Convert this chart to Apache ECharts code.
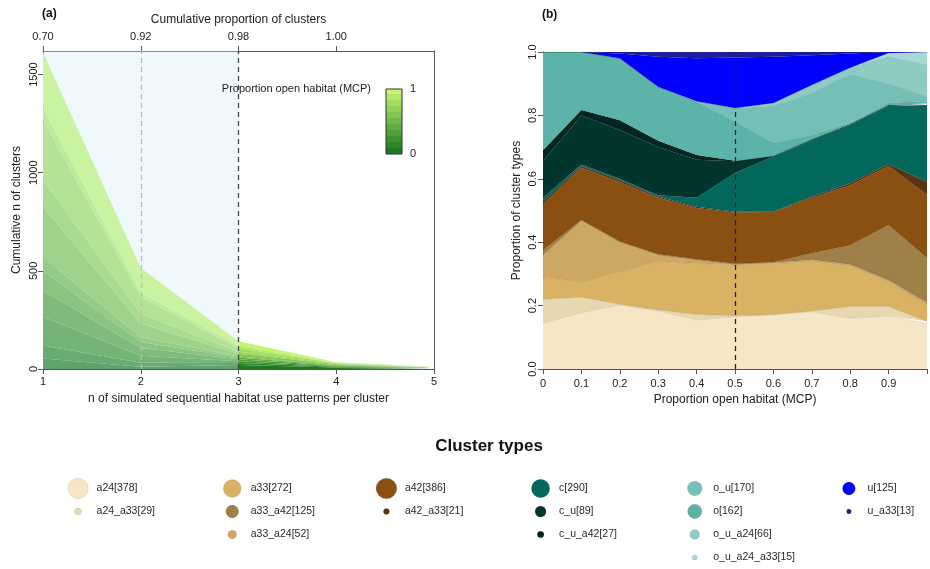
<!DOCTYPE html>
<html><head><meta charset="utf-8">
<script src="https://cdn.jsdelivr.net/npm/echarts@6/dist/echarts.min.js"></script>
<style>html,body{margin:0;padding:0;background:#fff}#c{width:930px;height:569px}</style>
</head><body><div id="c"></div>
<script>
const FONT = '"Liberation Sans", Arial, Helvetica, sans-serif';

// ---------- Panel (a) data ----------
const nPatterns = ['1', '2', '3', '4', '5'];
const cumPropLabels = ['0.70', '0.92', '0.98', '1.00'];
const openLevels = ['0', '0.1', '0.2', '0.3', '0.4', '0.5', '0.6', '0.7', '0.8', '0.9', '1'];
const nOpen00 = [54, 12, 20, 8, 4];
const nOpen01 = [66, 20, 10, 3, 1];
const nOpen02 = [145, 35, 10, 3, 1];
const nOpen03 = [135, 40, 10, 3, 1];
const nOpen04 = [100, 30, 8, 2, 1];
const nOpen05 = [70, 25, 6, 2, 0.5];
const nOpen06 = [255, 70, 14, 3, 1];
const nOpen07 = [137, 50, 10, 2, 0.5];
const nOpen08 = [306, 85, 18, 3, 1];
const nOpen09 = [62, 22, 12, 2, 0.5];
const nOpen10 = [282, 125, 24, 4, 0.5];
const nOpenAll = [nOpen00, nOpen01, nOpen02, nOpen03, nOpen04, nOpen05, nOpen06, nOpen07, nOpen08, nOpen09, nOpen10];
const yMaxA = 1620;
const shadeRange = ['1', '3'];
const refLinesA = ['2', '3'];

// ---------- Panel (b) data ----------
const propOpen = ['0', '0.1', '0.2', '0.3', '0.4', '0.5', '0.6', '0.7', '0.8', '0.9', '1'];
const typeNames = ['a24', 'a24_a33', 'a33', 'a33_a24', 'a33_a42', 'a42', 'a42_a33', 'c', 'c_u', 'c_u_a42', 'o', 'o_u', 'o_u_a24', 'o_u_a24_a33', 'u', 'u_a33'];
const typeCounts = [378, 29, 272, 52, 125, 386, 21, 290, 89, 27, 162, 170, 66, 15, 125, 13];
const p_a24 =         [0.144, 0.178, 0.202, 0.183, 0.155, 0.165, 0.170, 0.181, 0.160, 0.167, 0.144];
const p_a24_a33 =     [0.076, 0.048, 0.002, 0.003, 0.017, 0.003, 0.002, 0.002, 0.037, 0.030, 0.006];
const p_a33 =         [0.071, 0.047, 0.103, 0.153, 0.161, 0.160, 0.161, 0.156, 0.128, 0.078, 0.050];
const p_a33_a24 =     [0.069, 0.195, 0.093, 0.021, 0.011, 0.002, 0.002, 0.006, 0.005, 0.005, 0.010];
const p_a33_a42 =     [0.015, 0.002, 0.002, 0.002, 0.002, 0.002, 0.002, 0.020, 0.060, 0.174, 0.140];
const p_a42 =         [0.145, 0.165, 0.188, 0.178, 0.162, 0.162, 0.158, 0.175, 0.190, 0.186, 0.200];
const p_a42_a33 =     [0.008, 0.005, 0.006, 0.004, 0.004, 0.002, 0.002, 0.004, 0.006, 0.007, 0.040];
const p_c =           [0.012, 0.005, 0.004, 0.004, 0.028, 0.122, 0.173, 0.178, 0.184, 0.183, 0.243];
const p_c_u =         [0.116, 0.155, 0.154, 0.152, 0.120, 0.037, 0.002, 0.002, 0.002, 0.002, 0.003];
const p_c_u_a42 =     [0.034, 0.017, 0.031, 0.020, 0.015, 0.002, 0.001, 0.001, 0.001, 0.001, 0.002];
const p_o =           [0.310, 0.183, 0.195, 0.170, 0.168, 0.123, 0.040, 0.013, 0.002, 0.007, 0.007];
const p_o_u =         [0, 0, 0, 0, 0.002, 0.043, 0.117, 0.132, 0.155, 0.060, 0.015];
const p_o_u_a24 =     [0, 0, 0, 0, 0, 0, 0.009, 0.026, 0.020, 0.085, 0.100];
const p_o_u_a24_a33 = [0, 0, 0, 0, 0, 0, 0, 0, 0, 0.012, 0.040];
const p_u =           [0, 0, 0.015, 0.095, 0.135, 0.160, 0.146, 0.094, 0.045, 0.003, 0];
const p_u_a33 =       [0, 0, 0.005, 0.015, 0.020, 0.017, 0.015, 0.010, 0.005, 0, 0];
const typeProps = [p_a24, p_a24_a33, p_a33, p_a33_a24, p_a33_a42, p_a42, p_a42_a33, p_c, p_c_u, p_c_u_a42, p_o, p_o_u, p_o_u_a24, p_o_u_a24_a33, p_u, p_u_a33];
const refLineB = '0.5';
const legendGroups = [['a24', 'a24_a33'], ['a33', 'a33_a42', 'a33_a24'], ['a42', 'a42_a33'], ['c', 'c_u', 'c_u_a42'], ['o_u', 'o', 'o_u_a24', 'o_u_a24_a33'], ['u', 'u_a33']];

// ---------- styles ----------
const typeColors = {
  a24: '#F5E7C5', a24_a33: '#E6D9B2', a33: '#D9B264', a33_a24: '#CDA862', a33_a42: '#9E8048',
  a42: '#8A5012', a42_a33: '#5A3410', c: '#03685C', c_u: '#03352F', c_u_a42: '#012520',
  o: '#5BB3A9', o_u: '#74C0B7', o_u_a24: '#8DCBC4', o_u_a24_a33: '#AAD9D4', u: '#0000FF', u_a33: '#1E1E9A'
};
const gLo = [30, 122, 30], gHi = [196, 246, 112];
function greenAt(t) {
  const c = gLo.map((v, i) => Math.round(v + (gHi[i] - v) * t));
  return 'rgb(' + c.join(',') + ')';
}
const greenColors = openLevels.map((_, i) => greenAt(i / (openLevels.length - 1)));

const axisColor = '#555';
const txt = '#222';

const series = [];
nOpenAll.forEach((arr, i) => {
  series.push({
    name: 'open ' + openLevels[i], type: 'line', xAxisIndex: 0, yAxisIndex: 0, stack: 'a',
    data: arr, symbol: 'none', silent: true,
    lineStyle: { width: 0 }, areaStyle: { color: greenColors[i], opacity: 1 }, z: 2
  });
});
series.push({
  type: 'line', xAxisIndex: 0, yAxisIndex: 0, data: [], z: 5, silent: true,
  markArea: { silent: true, z: 5, itemStyle: { color: 'rgba(212,238,246,0.36)' },
    data: [[{ xAxis: shadeRange[0] }, { xAxis: shadeRange[1] }]] }
});
series.push({
  type: 'line', xAxisIndex: 0, yAxisIndex: 0, data: [], z: 6, silent: true,
  markLine: { silent: true, z: 6, symbol: 'none', label: { show: false }, animation: false,
    data: [
      { xAxis: refLinesA[0], lineStyle: { color: '#bbbbbb', type: [5, 4], width: 1.3 } },
      { xAxis: refLinesA[1], lineStyle: { color: '#444444', type: [5, 4], width: 1.3 } }
    ] }
});
typeNames.forEach((nm, i) => {
  series.push({
    name: nm, type: 'line', xAxisIndex: 2, yAxisIndex: 1, stack: 'b',
    data: typeProps[i], symbol: 'none', silent: true,
    lineStyle: { width: 0.6, color: 'rgba(0,0,0,0.12)' },
    areaStyle: { color: typeColors[nm], opacity: 1 }, z: 2
  });
});
series.push({
  type: 'line', xAxisIndex: 2, yAxisIndex: 1, data: [], z: 6, silent: true,
  markLine: { silent: true, z: 6, symbol: 'none', label: { show: false }, animation: false,
    data: [{ xAxis: refLineB, lineStyle: { color: '#222', type: [5, 4], width: 1.3 } }] }
});
function symD(n) { return 1.6 * Math.pow(n, 0.43); }
const legendData = [];
legendGroups.forEach((grp, col) => {
  grp.forEach((nm, row) => {
    const n = typeCounts[typeNames.indexOf(nm)];
    const d = symD(n);
    legendData.push({
      value: [col, row], symbolSize: d,
      itemStyle: { color: typeColors[nm], opacity: 1, borderColor: 'rgba(0,0,0,0.08)', borderWidth: 1 },
      label: { show: true, position: 'right', distance: 18 - d / 2, formatter: nm + '[' + n + ']' }
    });
  });
});
series.push({
  type: 'scatter', xAxisIndex: 4, yAxisIndex: 3, data: legendData, silent: true,
  itemStyle: { opacity: 1 },
  label: { fontFamily: FONT, fontSize: 10.5, color: '#2a2a2a' }
});

const option = {
  animation: false,
  backgroundColor: '#fff',
  textStyle: { fontFamily: FONT },
  grid: [
    { left: 43, right: 496, top: 51, bottom: 200, show: false },
    { left: 543, right: -4, top: 52, bottom: 200, show: false },
    { left: 1, width: 925, top: 477, height: 95, show: false }
  ],
  xAxis: [
    { gridIndex: 0, type: 'category', data: nPatterns, boundaryGap: false, position: 'bottom',
      axisLine: { show: true, onZero: false, lineStyle: { color: axisColor } },
      axisTick: { show: true, length: 5, lineStyle: { color: axisColor } },
      axisLabel: { fontSize: 11, color: txt, margin: 7 }, splitLine: { show: false },
      name: 'n of simulated sequential habitat use patterns per cluster', nameLocation: 'middle', nameGap: 24,
      nameTextStyle: { fontSize: 12, color: txt } },
    { gridIndex: 0, type: 'category', data: nPatterns, boundaryGap: false, position: 'top',
      axisLine: { show: true, onZero: false, lineStyle: { color: axisColor } },
      axisTick: { show: true, length: 5, lineStyle: { color: axisColor }, interval: i => i < cumPropLabels.length },
      axisLabel: { fontSize: 11, color: txt, margin: 9, interval: i => i < cumPropLabels.length,
        formatter: (v, i) => cumPropLabels[i] || '' },
      splitLine: { show: false },
      name: 'Cumulative proportion of clusters', nameLocation: 'middle', nameGap: 24,
      nameTextStyle: { fontSize: 12, color: txt } },
    { gridIndex: 1, type: 'category', data: propOpen, boundaryGap: false, position: 'bottom',
      axisLine: { show: true, onZero: false, lineStyle: { color: axisColor } },
      axisTick: { show: true, length: 5, lineStyle: { color: axisColor } },
      axisLabel: { fontSize: 11, color: txt, margin: 9, interval: 0, formatter: v => v === '1' ? '' : v },
      splitLine: { show: false },
      name: 'Proportion open habitat (MCP)', nameLocation: 'middle', nameGap: 25,
      nameTextStyle: { fontSize: 12, color: txt } },
    { gridIndex: 1, type: 'category', data: propOpen, boundaryGap: false, position: 'top',
      axisLine: { show: true, onZero: false, lineStyle: { color: '#999' } },
      axisTick: { show: false }, axisLabel: { show: false }, splitLine: { show: false } },
    { gridIndex: 2, type: 'value', min: -0.5, max: 5.5, show: false }
  ],
  yAxis: [
    { gridIndex: 0, type: 'value', min: 0, max: yMaxA, interval: 500,
      axisLine: { show: true, onZero: false, lineStyle: { color: axisColor } },
      axisTick: { show: true, length: 5, lineStyle: { color: axisColor } },
      axisLabel: { fontSize: 11, color: txt, rotate: 90, margin: 4, showMaxLabel: false, formatter: v => String(v) },
      splitLine: { show: false },
      name: 'Cumulative n of clusters', nameLocation: 'middle', nameGap: 20, nameRotate: 90,
      nameTextStyle: { fontSize: 12, color: txt } },
    { gridIndex: 1, type: 'value', min: 0, max: 1, interval: 0.2,
      axisLine: { show: true, onZero: false, lineStyle: { color: axisColor } },
      axisTick: { show: true, length: 5, lineStyle: { color: axisColor } },
      axisLabel: { fontSize: 11, color: txt, rotate: 90, margin: 5, formatter: v => v.toFixed(1) },
      splitLine: { show: false },
      name: 'Proportion of cluster types', nameLocation: 'middle', nameGap: 20, nameRotate: 90,
      nameTextStyle: { fontSize: 12, color: txt } },
    { gridIndex: 0, type: 'value', min: 0, max: yMaxA, position: 'right',
      axisLine: { show: true, onZero: false, lineStyle: { color: axisColor } },
      axisTick: { show: false }, axisLabel: { show: false }, splitLine: { show: false } },
    { gridIndex: 2, type: 'value', min: -0.5, max: 3.5, inverse: true, show: false }
  ],
  graphic: [
    { type: 'text', left: 42, top: 8, style: { text: '(a)', font: 'bold 12px ' + FONT, fill: '#111' } },
    { type: 'text', left: 542, top: 9, style: { text: '(b)', font: 'bold 12px ' + FONT, fill: '#111' } },
    { type: 'text', x: 371, y: 89, z: 20, style: { text: 'Proportion open habitat (MCP)', font: '11px ' + FONT, fill: txt, align: 'right', verticalAlign: 'middle' } },
    { type: 'rect', x: 386, y: 89, shape: { width: 16, height: 65 }, z: 20,
      style: { stroke: '#333', lineWidth: 1,
        fill: new echarts.graphic.LinearGradient(0, 1, 0, 0, greenColors.flatMap((c, i) => [
          { offset: i / greenColors.length, color: c }, { offset: (i + 1) / greenColors.length, color: c }])) } },
    { type: 'text', x: 410, y: 89, style: { text: '1', font: '11px ' + FONT, fill: txt, verticalAlign: 'middle' } },
    { type: 'text', x: 410, y: 154, style: { text: '0', font: '11px ' + FONT, fill: txt, verticalAlign: 'middle' } },
    { type: 'text', x: 489, y: 446, style: { text: 'Cluster types', font: 'bold 17px ' + FONT, fill: '#111', align: 'center', verticalAlign: 'middle' } }
  ],
  series: series
};
const chart = echarts.init(document.getElementById('c'));
chart.setOption(option);
</script>
</body></html>
